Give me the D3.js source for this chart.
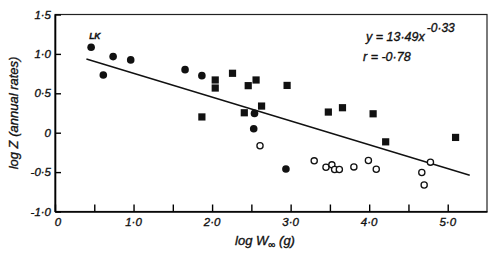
<!DOCTYPE html>
<html>
<head>
<meta charset="utf-8">
<script src="https://cdn.jsdelivr.net/npm/d3@7"></script>
<style>
  body { margin: 0; background: #fff; }
  text { font-family: "Liberation Sans", Arial, sans-serif; font-style: italic; fill: #111; stroke: #111; stroke-width: 0.35; }
</style>
</head>
<body>
<svg id="chart" width="500" height="258"></svg>
<script>
// log W∞ vs log Z, filled circles
const filledCircles = [
  [0.46, 1.085], [0.615, 0.733], [0.74, 0.966], [0.964, 0.924],
  [1.656, 0.80], [1.87, 0.724], [2.54, 0.245], [2.53, 0.05], [2.94, -0.46]
];
const squares = [
  [1.87, 0.20], [2.04, 0.669], [2.04, 0.567], [2.26, 0.754], [2.41, 0.253],
  [2.46, 0.597], [2.56, 0.669], [2.63, 0.338], [2.955, 0.60], [3.48, 0.262],
  [3.66, 0.317], [4.05, 0.24], [4.21, -0.116], [5.10, -0.06]
];
const openCircles = [
  [2.61, -0.166], [3.30, -0.357], [3.45, -0.438], [3.525, -0.408], [3.56, -0.467],
  [3.62, -0.467], [3.805, -0.434], [3.99, -0.352], [4.09, -0.463],
  [4.67, -0.505], [4.70, -0.663], [4.78, -0.374]
];
const fitLine = [[0.4, 0.935], [5.28, -0.54]];
const xTicks = [0, 1, 2, 3, 4, 5];
const xMinorTicks = [0.5, 1.5, 2.5, 3.5, 4.5];
const yTicks = [-1, -0.5, 0, 0.5, 1, 1.5];

const fmt = v => v === 0 ? '0' : d3.format('.1f')(v).replace('.', '·').replace('−', '-');

const svg = d3.select('#chart');
const x = d3.scaleLinear().domain([0, 5.5]).range([55, 487]);
const y = d3.scaleLinear().domain([-1, 1.5]).range([211.5, 14.5]);

// frame
svg.append('rect')
  .attr('x', x(0)).attr('y', y(1.5))
  .attr('width', x(5.5) - x(0)).attr('height', y(-1) - y(1.5))
  .attr('fill', 'none').attr('stroke', '#222').attr('stroke-width', 1.2);

// x axis
const xAxis = svg.append('g').attr('transform', `translate(0,${y(-1)})`)
  .call(d3.axisBottom(x).tickValues(xTicks.concat(xMinorTicks)).tickSizeInner(-7).tickSizeOuter(0).tickFormat(''));
xAxis.select('.domain').attr('stroke-width', 1.6);
xAxis.selectAll('.tick line').attr('stroke-width', 1.4);
svg.append('g').selectAll('text').data(xTicks).join('text')
  .attr('x', d => d === 0 ? x(d) + 3 : x(d))
  .attr('y', y(-1) + 14)
  .attr('text-anchor', 'middle')
  .attr('font-size', 11.5)
  .text(fmt);

// y axis
const yAxis = svg.append('g').attr('transform', `translate(${x(0)},0)`)
  .call(d3.axisLeft(y).tickValues(yTicks).tickSizeInner(-6).tickSizeOuter(0).tickFormat(''));
yAxis.select('.domain').attr('stroke-width', 1.6);
yAxis.selectAll('.tick line').attr('stroke-width', 1.4);
svg.append('g').selectAll('text').data(yTicks).join('text')
  .attr('x', x(0) - 4)
  .attr('y', d => y(d) + 4)
  .attr('text-anchor', 'end')
  .attr('font-size', 11.5)
  .text(fmt);

// regression line
svg.append('path')
  .datum(fitLine)
  .attr('d', d3.line().x(d => x(d[0])).y(d => y(d[1])))
  .attr('stroke', '#111').attr('stroke-width', 1.4).attr('fill', 'none');

// markers
svg.append('g').selectAll('circle').data(filledCircles).join('circle')
  .attr('cx', d => x(d[0])).attr('cy', d => y(d[1])).attr('r', 3.8)
  .attr('fill', '#111');
svg.append('g').selectAll('rect').data(squares).join('rect')
  .attr('x', d => x(d[0]) - 3.6).attr('y', d => y(d[1]) - 3.6)
  .attr('width', 7.2).attr('height', 7.2)
  .attr('fill', '#111');
svg.append('g').selectAll('circle').data(openCircles).join('circle')
  .attr('cx', d => x(d[0])).attr('cy', d => y(d[1])).attr('r', 3.1)
  .attr('fill', '#fff').attr('stroke', '#111').attr('stroke-width', 1.3);

// LK label
svg.append('text')
  .attr('x', x(filledCircles[0][0]) - 2).attr('y', y(filledCircles[0][1]) - 8)
  .attr('font-size', 8.5).attr('font-weight', 'bold').text('LK');

// equation
const eq = svg.append('text').attr('x', 366).attr('y', 41).attr('font-size', 12.5);
eq.append('tspan').text('y = 13·49x');
eq.append('tspan').attr('dy', -9).attr('dx', 2).attr('font-size', 12).text('-0·33');
svg.append('text').attr('x', 363).attr('y', 61).attr('font-size', 12.5).text('r = -0·78');

// axis titles
const xt = svg.append('text').attr('x', 265).attr('y', 245).attr('text-anchor', 'middle').attr('font-size', 13);
xt.append('tspan').text('log W');
xt.append('tspan').attr('dy', 3).attr('font-size', 10).text('∞');
xt.append('tspan').attr('dy', -3).text('  (g)');

svg.append('text')
  .attr('transform', `translate(18,${y(0.25)}) rotate(-90)`)
  .attr('text-anchor', 'middle').attr('font-size', 13)
  .text('log Z (annual rates)');
</script>
</body>
</html>
